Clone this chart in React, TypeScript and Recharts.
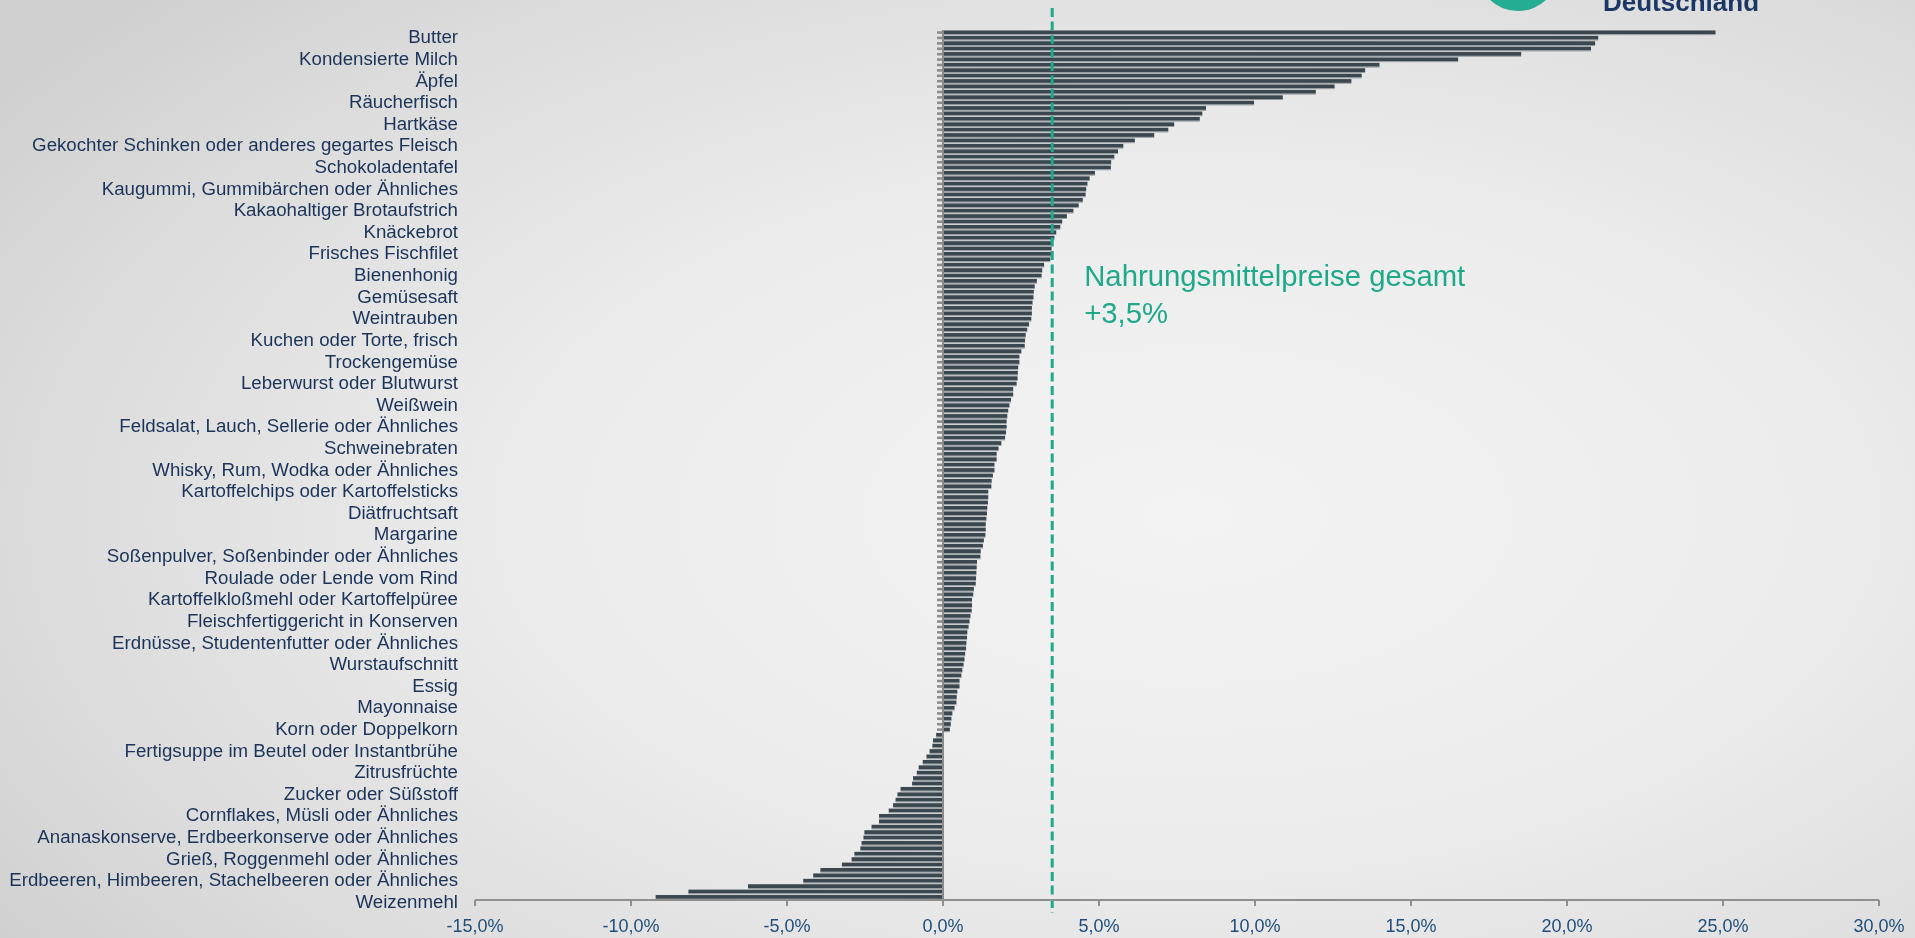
import React from 'react';
import { BarChart, Bar, XAxis, YAxis, ReferenceLine } from 'recharts';

// every 4th category carries a label (top to bottom)
const labels = [
  'Butter',
  'Kondensierte Milch',
  'Äpfel',
  'Räucherfisch',
  'Hartkäse',
  'Gekochter Schinken oder anderes gegartes Fleisch',
  'Schokoladentafel',
  'Kaugummi, Gummibärchen oder Ähnliches',
  'Kakaohaltiger Brotaufstrich',
  'Knäckebrot',
  'Frisches Fischfilet',
  'Bienenhonig',
  'Gemüsesaft',
  'Weintrauben',
  'Kuchen oder Torte, frisch',
  'Trockengemüse',
  'Leberwurst oder Blutwurst',
  'Weißwein',
  'Feldsalat, Lauch, Sellerie oder Ähnliches',
  'Schweinebraten',
  'Whisky, Rum, Wodka oder Ähnliches',
  'Kartoffelchips oder Kartoffelsticks',
  'Diätfruchtsaft',
  'Margarine',
  'Soßenpulver, Soßenbinder oder Ähnliches',
  'Roulade oder Lende vom Rind',
  'Kartoffelkloßmehl oder Kartoffelpüree',
  'Fleischfertiggericht in Konserven',
  'Erdnüsse, Studentenfutter oder Ähnliches',
  'Wurstaufschnitt',
  'Essig',
  'Mayonnaise',
  'Korn oder Doppelkorn',
  'Fertigsuppe im Beutel oder Instantbrühe',
  'Zitrusfrüchte',
  'Zucker oder Süßstoff',
  'Cornflakes, Müsli oder Ähnliches',
  'Ananaskonserve, Erdbeerkonserve oder Ähnliches',
  'Grieß, Roggenmehl oder Ähnliches',
  'Erdbeeren, Himbeeren, Stachelbeeren oder Ähnliches',
  'Weizenmehl',
];

// price change in %, one value per product (top to bottom)
const changes = [
  24.76, 21.0, 20.9, 20.77, 18.53, 16.51, 13.99, 13.53, 13.42, 13.09,
  12.55, 11.95, 10.89, 9.97, 8.43, 8.31, 8.23, 7.41, 7.22, 6.77,
  6.15, 5.78, 5.61, 5.49, 5.39, 5.38, 4.87, 4.7, 4.63, 4.59,
  4.57, 4.48, 4.35, 4.18, 3.97, 3.82, 3.76, 3.63, 3.57, 3.51,
  3.48, 3.47, 3.44, 3.24, 3.18, 3.16, 3.01, 2.94, 2.91, 2.9,
  2.87, 2.85, 2.85, 2.83, 2.76, 2.7, 2.65, 2.63, 2.62, 2.51,
  2.45, 2.45, 2.41, 2.4, 2.39, 2.36, 2.25, 2.25, 2.18, 2.13,
  2.09, 2.06, 2.04, 2.04, 2.02, 1.99, 1.87, 1.78, 1.72, 1.72,
  1.65, 1.65, 1.6, 1.56, 1.55, 1.45, 1.45, 1.44, 1.42, 1.41,
  1.39, 1.37, 1.37, 1.36, 1.31, 1.28, 1.21, 1.2, 1.09, 1.08,
  1.07, 1.06, 1.05, 0.99, 0.97, 0.93, 0.93, 0.92, 0.88, 0.85,
  0.82, 0.78, 0.77, 0.75, 0.74, 0.71, 0.69, 0.66, 0.62, 0.59,
  0.53, 0.53, 0.46, 0.44, 0.43, 0.37, 0.3, 0.27, 0.25, 0.22,
  -0.22, -0.32, -0.34, -0.43, -0.53, -0.65, -0.78, -0.84, -0.96, -0.99,
  -1.36, -1.46, -1.52, -1.6, -1.74, -2.05, -2.05, -2.29, -2.52, -2.55,
  -2.61, -2.65, -2.84, -2.93, -3.24, -3.93, -4.16, -4.48, -6.25, -8.16,
  -9.21,
];

const xTicks = [-15, -10, -5, 0, 5, 10, 15, 20, 25, 30];
const totalChange = 3.5;

const data = changes.map((v, i) => ({
  id: 'p' + i,
  label: i % 4 === 0 ? labels[i / 4] : '',
  value: v,
}));
const labelById: Record<string, string> = {};
data.forEach((d) => (labelById[d.id] = d.label));

const font = '"Liberation Sans", Arial, sans-serif';
const pct = (v: number) => v.toFixed(1).replace('.', ',') + '%';

const BarShape = (p: any) => {
  const { x, y, width, height, value } = p;
  const left = Math.min(x, x + width);
  const right = Math.max(x, x + width);
  const v = Array.isArray(value) ? value[1] : value;
  const zero = v >= 0 ? left : right;
  const cy = y + height / 2;
  return (
    <g>
      <rect x={zero - 6} y={cy - 1.3} width={6} height={2.6} fill="#8d8d8d" />
      <rect x={left} y={cy - 2.1} width={right - left} height={3.8} fill="#3b474e" />
      <rect x={left} y={cy + 1.7} width={right - left} height={0.9} fill="#8f979b" />
    </g>
  );
};

const TotalLine = (p: any) => {
  const top = Math.min(p.y1, p.y2);
  const bottom = Math.max(p.y1, p.y2);
  return (
    <g>
      <line
        x1={p.x1}
        x2={p.x2}
        y1={top - 22}
        y2={bottom + 13}
        stroke="#1fa98b"
        strokeWidth={3}
        strokeDasharray="9 4.5"
      />
      <text x={p.x1 + 32} y={top + 256} fill="#1fa98b" fontSize={29.3} fontFamily={font}>
        <tspan x={p.x1 + 32}>Nahrungsmittelpreise gesamt</tspan>
        <tspan x={p.x1 + 32} dy={37}>{'+' + pct(totalChange)}</tspan>
      </text>
    </g>
  );
};

export default function App() {
  return (
    <div
      style={{
        position: 'fixed',
        left: 0,
        top: 0,
        width: 1915,
        height: 938,
        overflow: 'hidden',
        background:
          'radial-gradient(ellipse 75% 80% at 62% 55%, #f3f3f3 0%, #ececec 45%, #dcdcdc 80%, #d0d0d0 100%)',
        fontFamily: font,
      }}
    >
      <svg width={1915} height={40} style={{ position: 'absolute', left: 0, top: 0 }}>
        <circle cx={1518} cy={-30} r={41} fill="#24ad92" />
        <text x={1603} y={11} fontSize={26} fontWeight="bold" fill="#1b3765" fontFamily={font}>
          Deutschland
        </text>
      </svg>
      <BarChart
        width={1915}
        height={938}
        data={data}
        layout="vertical"
        margin={{ top: 30, right: 36, left: 0, bottom: 0 }}
        barCategoryGap="10%"
        style={{ position: 'absolute', left: 0, top: 0 }}
      >
        <XAxis
          type="number"
          domain={[-15, 30]}
          ticks={xTicks}
          tickFormatter={pct}
          height={38}
          axisLine={{ stroke: '#8f8f8f', strokeWidth: 2 }}
          tickLine={{ stroke: '#8f8f8f', strokeWidth: 2 }}
          tickSize={6}
          tickMargin={13}
          tick={{ fill: '#1f4e7a', fontSize: 18, fontFamily: font }}
          allowDataOverflow
        />
        <YAxis
          type="category"
          dataKey="id"
          width={475}
          interval={3}
          axisLine={false}
          tickLine={false}
          tickSize={0}
          tickMargin={17}
          tickFormatter={(id: string) => labelById[id]}
          tick={{ fill: '#1b3358', fontSize: 18.7, fontFamily: font, dy: 4 }}
        />
        <Bar dataKey="value" shape={BarShape} isAnimationActive={false} />
        <ReferenceLine x={0} stroke="#8a8a8a" strokeWidth={2} />
        <ReferenceLine x={totalChange} shape={TotalLine} />
      </BarChart>
    </div>
  );
}
